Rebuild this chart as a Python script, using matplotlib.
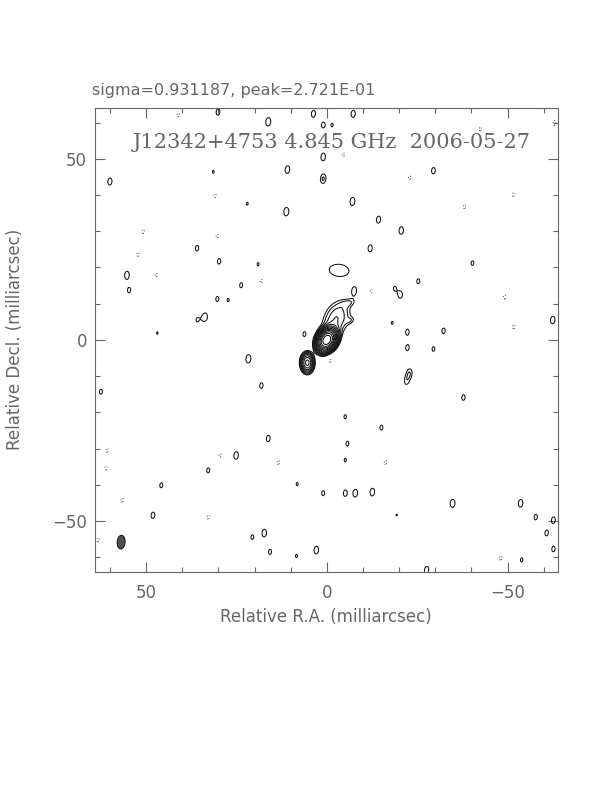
import numpy as np
import matplotlib
matplotlib.use("Agg")
import matplotlib.pyplot as plt
from matplotlib.patches import Ellipse
from matplotlib.ticker import MultipleLocator

# ---------------- data ----------------
source_name = "J12342+4753 4.845 GHz  2006-05-27"
sigma_mjy = 0.931187
peak_jy = 2.721e-01
lowest_level = 3 * sigma_mjy          # mJy/beam
level_factor = np.sqrt(2.0)

beam_maj = 3.8     # mas (FWHM)
beam_min = 2.2
beam_pa = -5.0
beam_ra = 56.9
beam_dec = -55.8

# source components: RA offset, Dec offset (mas), peak (mJy/beam), FWHM maj, min (mas), PA (deg)
comp_ra   = [0.0,   -2.6,  -6.0,  -6.6,  5.4,  -3.4]
comp_dec  = [0.0,    5.8,  10.2,   5.4, -6.3,  19.2]
comp_peak = [250.0,  8.0,   2.6,   2.2, 36.0,  3.6]
comp_maj  = [3.8,    8.5,   3.4,   2.2,  3.5,  9.0]
comp_min  = [2.8,    5.5,   1.8,   1.6,  2.3,  5.5]
comp_pa   = [-30.0, -25.0, -75.0, -60.0, 0.0,  85.0]

# positive noise islands: RA, Dec (mas), peak in units of the lowest level
pos_ra  = [30.1, 16.2, 3.7, -7.3, 1.0, 1.0, 10.9, 1.0, 60.0, 11.2, 35.9, 29.8, 19.0, 55.3,
           54.7, 23.7, 30.3, 27.3, 33.7, 35.9, 6.2, 46.9, 31.4, 22.0, -7.1, -14.3, -20.6,
           -12.0, -29.5, -40.3, -25.3, -7.6, -20.4, -18.7, -62.5, -18.1, -22.3, -32.3,
           -1.5, 21.7, 18.1, -22.3, -22.9, -22.0, -29.5, -37.8, -15.1, -5.1, 16.2, 25.1,
           32.8, 45.8, 48.1, 17.3, 20.6, 15.7, 2.9, 8.4, 1.0, -5.1, -7.9, -12.6, -5.7, 8.2,
           -19.3, -34.8, -53.6, -57.8, -62.7, -60.8, -62.7, -53.9, -27.6, 62.5, -5.1]
pos_dec = [62.9, 60.2, 62.4, 62.4, 59.3, 50.5, 47.0, 44.5, 43.7, 35.4, 25.3, 21.7, 20.9, 17.9,
           13.7, 15.1, 11.3, 11.0, 6.3, 5.5, 1.6, 1.9, 46.4, 37.6, 38.2, 33.2, 30.2,
           25.3, 46.7, 21.2, 16.2, 13.5, 12.4, 14.3, 5.5, 4.7, 2.2, 2.5,
           59.3, -5.2, -12.6, -2.2, -9.1, -11.5, -2.5, -15.9, -24.2, -21.2, -27.2, -31.9,
           -36.0, -40.1, -48.4, -53.3, -54.4, -58.5, -58.0, -59.6, -42.3, -42.3, -42.3, -42.0,
           -28.6, -39.8, -48.1, -45.1, -45.1, -48.9, -49.7, -53.3, -57.7, -60.7, -63.5, -14.3, -33.2]
pos_amp = [1.2, 1.38, 1.25, 1.25, 1.15, 1.3, 1.3, 1.5, 1.25, 1.38, 1.15, 1.15, 1.05, 1.3,
           1.12, 1.12, 1.12, 1.05, 1.35, 1.03, 1.1, 1.03, 1.04, 1.04, 1.35, 1.25, 1.3,
           1.25, 1.2, 1.1, 1.12, 1.15, 1.2, 1.02, 1.3, 1.04, 1.15, 1.15,
           1.04, 1.38, 1.15, 1.15, 1.3, 1.06, 1.1, 1.15, 1.12, 1.08, 1.2, 1.3,
           1.12, 1.12, 1.2, 1.3, 1.1, 1.12, 1.3, 1.05, 1.12, 1.2, 1.3, 1.3,
           1.1, 1.05, 1.1, 1.35, 1.3, 1.15, 1.2, 1.15, 1.15, 1.08, 1.25, 1.12, 1.05]
pos_pa = [0.0] * len(pos_ra)

# negative noise islands: RA, Dec (mas), depth in units of the lowest level
neg_ra  = [-42.5, -51.7, -63.0, -4.6, -12.3, -49.2, -51.7, -38.1, -22.9, 41.1, 30.9, 30.3,
           50.8, 52.2, 47.2, 18.1, 3.2, -1.0, 60.8, 61.1, 56.6, 63.3, 32.8, -16.2, 13.4,
           -48.1, 29.5, -18.7]
neg_dec = [58.2, 40.1, 59.9, 51.1, 13.5, 11.8, 3.6, 36.8, 44.8, 62.1, 39.8, 28.6,
           29.9, 23.6, 17.9, 16.2, 7.1, -5.8, -30.5, -35.4, -44.2, -55.2, -48.9, -33.8, -33.8,
           -60.2, -31.9, -45.6]
neg_amp = [1.1, 1.1, 1.15, 1.08, 1.08, 1.1, 1.1, 1.1, 1.08, 1.08, 1.08, 1.08,
           1.1, 1.1, 1.08, 1.08, 1.1, 1.08, 1.1, 1.1, 1.1, 1.1, 1.1, 1.1, 1.1,
           1.1, 1.08, 1.1]

x_ticks = [50, 0, -50]
y_ticks = [-50, 0, 50]
map_half = 64.0

# ---------------- model image ----------------
step = 0.12
ra_axis = np.arange(-map_half, map_half + step, step)
dec_axis = np.arange(-map_half, map_half + step, step)
RA, DEC = np.meshgrid(ra_axis, dec_axis)
Z = np.zeros_like(RA)


def add_gauss(img, ra0, dec0, peak, fmaj, fmin, pa):
    smaj = fmaj / 2.3548
    smin = fmin / 2.3548
    w = 4 * fmaj
    i0 = max(0, int((dec0 - w + map_half) / step))
    i1 = min(len(dec_axis), int((dec0 + w + map_half) / step) + 2)
    j0 = max(0, int((ra0 - w + map_half) / step))
    j1 = min(len(ra_axis), int((ra0 + w + map_half) / step) + 2)
    if i1 <= i0 or j1 <= j0:
        return
    dx = RA[i0:i1, j0:j1] - ra0
    dy = DEC[i0:i1, j0:j1] - dec0
    t = np.deg2rad(pa)
    u = dx * np.sin(t) + dy * np.cos(t)
    v = dx * np.cos(t) - dy * np.sin(t)
    img[i0:i1, j0:j1] += peak * np.exp(-0.5 * (u ** 2 / smaj ** 2 + v ** 2 / smin ** 2))


for a, d, p, M, m, pa in zip(comp_ra, comp_dec, comp_peak, comp_maj, comp_min, comp_pa):
    add_gauss(Z, a, d, p, M, m, pa)
for a, d, r, pa in zip(pos_ra, pos_dec, pos_amp, pos_pa):
    add_gauss(Z, a, d, r * lowest_level, 3.4, 2.0, pa - 5.0)
for a, d, r in zip(neg_ra, neg_dec, neg_amp):
    add_gauss(Z, a, d, -r * lowest_level, 3.0, 1.8, -5.0)

levels = [lowest_level * level_factor ** k for k in range(14)]
levels = [lv for lv in levels if lv < Z.max()]

# ---------------- figure ----------------
fig = plt.figure(figsize=(6.12, 7.92), dpi=100)
ax = fig.add_axes([0.156, 0.278, 0.756, 0.5856])

ax.contour(RA, DEC, Z, levels=levels, colors="#111111", linewidths=0.75)
ax.contour(RA, DEC, Z, levels=[-lowest_level], colors="#444444", linewidths=0.7,
           linestyles=[(0, (1, 2))])

ax.add_patch(Ellipse((beam_ra, beam_dec), beam_min, beam_maj, angle=-beam_pa,
                     facecolor="#505050", edgecolor="#111111", linewidth=0.7, zorder=3))

ax.set_xlim(map_half, -map_half)
ax.set_ylim(-map_half, map_half)
ax.set_aspect("auto")

gray = "#666666"
ax.set_xticks(x_ticks)
ax.set_yticks(y_ticks)
ax.set_xticklabels([str(v).replace("-", "\u2212") for v in x_ticks])
ax.set_yticklabels([str(v).replace("-", "\u2212") for v in y_ticks])
ax.xaxis.set_minor_locator(MultipleLocator(10))
ax.yaxis.set_minor_locator(MultipleLocator(10))
ax.tick_params(which="both", direction="in", top=True, right=True, color=gray, width=0.8)
ax.tick_params(which="major", length=7)
ax.tick_params(which="minor", length=3.5)
ax.tick_params(axis="x", which="major", pad=9, labelsize=12, labelcolor=gray)
ax.tick_params(axis="y", which="major", pad=6, labelsize=12, labelcolor=gray)
for s in ax.spines.values():
    s.set_color(gray)
    s.set_linewidth(0.8)

ax.text(0.511, 0.925, source_name, transform=ax.transAxes, ha="center", va="center",
        fontsize=15, color=gray, family="DejaVu Serif")

fig.text(0.150, 0.886, f"sigma={sigma_mjy:.6f}, peak={peak_jy:.3E}", ha="left", va="center",
         fontsize=11.5, color=gray)
fig.text(0.533, 0.221, "Relative R.A. (milliarcsec)", ha="center", va="center",
         fontsize=12, color=gray)
fig.text(0.025, 0.571, "Relative Decl. (milliarcsec)", ha="center", va="center",
         fontsize=12, color=gray, rotation=90)

fig.savefig("out.png", dpi=100)
